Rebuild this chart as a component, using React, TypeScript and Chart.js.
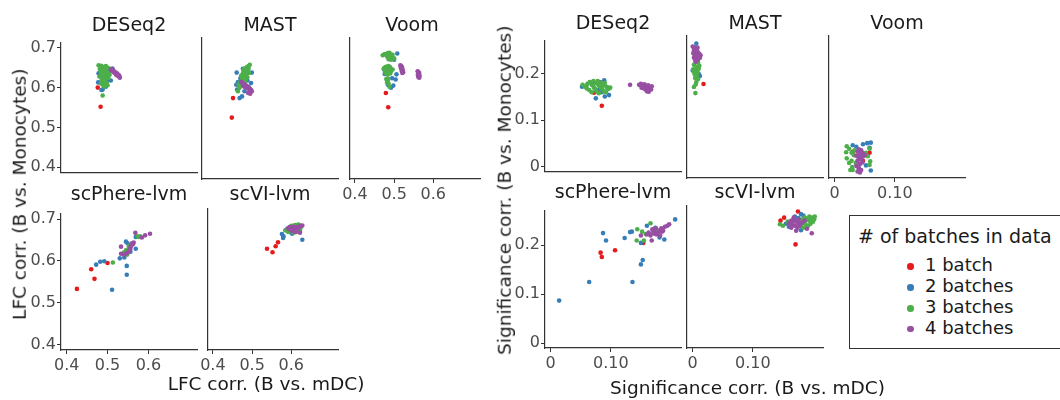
import React, { useEffect, useRef } from "react";
import { Chart, registerables } from "chart.js";

Chart.register(...registerables);

type Pt = [number, number];

// ---------- categories / labels ----------
const BATCH_LABELS = ["1 batch", "2 batches", "3 batches", "4 batches"];
const BATCH_COLORS = ["#E41A1C", "#377EB8", "#4DAF4A", "#984EA3"];
const METHODS_TOP = ["DESeq2", "MAST", "Voom"];
const METHODS_BOTTOM = ["scPhere-lvm", "scVI-lvm"];
const LEGEND_TITLE = "# of batches in data";

// ---------- tick values ----------
const LFC_Y_TICKS = [0.4, 0.5, 0.6, 0.7];
const LFC_X_TICKS = [0.4, 0.5, 0.6];
const SIG_Y_TICKS = [0, 0.1, 0.2];
const SIG_X_TICKS = [0, 0.1];

// ---------- LFC corr. data: [B vs. mDC, B vs. Monocytes] ----------
const lfcDESeq2_b1: Pt[] = [[0.476, 0.600], [0.483, 0.552]];
const lfcDESeq2_b2: Pt[] = [[0.477, 0.613], [0.478, 0.636], [0.485, 0.594], [0.488, 0.595], [0.496, 0.602], [0.500, 0.618], [0.508, 0.618], [0.512, 0.648], [0.490, 0.625], [0.482, 0.628], [0.503, 0.640], [0.493, 0.610]];
const lfcDESeq2_b3: Pt[] = [[0.478, 0.656], [0.484, 0.655], [0.490, 0.652], [0.496, 0.654], [0.500, 0.650], [0.504, 0.648], [0.481, 0.647], [0.487, 0.645], [0.493, 0.646], [0.498, 0.643], [0.483, 0.640], [0.490, 0.638], [0.496, 0.637], [0.502, 0.640], [0.486, 0.633], [0.492, 0.631], [0.499, 0.630], [0.480, 0.628], [0.488, 0.625], [0.495, 0.622], [0.502, 0.624], [0.485, 0.617], [0.492, 0.615], [0.498, 0.612], [0.489, 0.608], [0.495, 0.605], [0.484, 0.610], [0.491, 0.603], [0.488, 0.580], [0.505, 0.632], [0.500, 0.606]];
const lfcDESeq2_b4: Pt[] = [[0.508, 0.645], [0.511, 0.643], [0.513, 0.641], [0.515, 0.639], [0.517, 0.637], [0.519, 0.636], [0.521, 0.634], [0.523, 0.633], [0.525, 0.631], [0.527, 0.629], [0.529, 0.627], [0.530, 0.625], [0.516, 0.641], [0.520, 0.638], [0.524, 0.635], [0.528, 0.631], [0.512, 0.646], [0.522, 0.631]];

const lfcMAST_b1: Pt[] = [[0.462, 0.574], [0.459, 0.529]];
const lfcMAST_b2: Pt[] = [[0.470, 0.605], [0.471, 0.633], [0.472, 0.594], [0.478, 0.574], [0.484, 0.578], [0.508, 0.633], [0.506, 0.609], [0.474, 0.611], [0.480, 0.620], [0.490, 0.590], [0.497, 0.615], [0.486, 0.642], [0.500, 0.600]];
const lfcMAST_b3: Pt[] = [[0.476, 0.605], [0.480, 0.612], [0.484, 0.618], [0.488, 0.622], [0.482, 0.626], [0.486, 0.630], [0.490, 0.634], [0.494, 0.638], [0.488, 0.640], [0.492, 0.643], [0.496, 0.646], [0.500, 0.648], [0.503, 0.651], [0.498, 0.640], [0.494, 0.628], [0.490, 0.620], [0.486, 0.611], [0.492, 0.614], [0.497, 0.622], [0.501, 0.632], [0.478, 0.598], [0.484, 0.603], [0.474, 0.590], [0.488, 0.636], [0.495, 0.632], [0.500, 0.642]];
const lfcMAST_b4: Pt[] = [[0.482, 0.612], [0.485, 0.609], [0.488, 0.607], [0.491, 0.605], [0.494, 0.603], [0.497, 0.600], [0.500, 0.598], [0.503, 0.596], [0.506, 0.593], [0.508, 0.590], [0.502, 0.590], [0.499, 0.586], [0.504, 0.584], [0.490, 0.600], [0.495, 0.597], [0.487, 0.603]];

const lfcVoom_b1: Pt[] = [[0.479, 0.586], [0.485, 0.553]];
const lfcVoom_b2: Pt[] = [[0.508, 0.677], [0.500, 0.663], [0.506, 0.629], [0.504, 0.617], [0.498, 0.603], [0.492, 0.598], [0.484, 0.605], [0.474, 0.641], [0.476, 0.630], [0.490, 0.643], [0.482, 0.636], [0.495, 0.620]];
const lfcVoom_b3: Pt[] = [[0.471, 0.673], [0.476, 0.676], [0.480, 0.674], [0.484, 0.678], [0.488, 0.679], [0.492, 0.675], [0.496, 0.674], [0.482, 0.670], [0.488, 0.668], [0.494, 0.669], [0.500, 0.666], [0.486, 0.664], [0.492, 0.663], [0.474, 0.643], [0.478, 0.646], [0.482, 0.647], [0.486, 0.648], [0.490, 0.645], [0.476, 0.638], [0.480, 0.636], [0.484, 0.640], [0.488, 0.638], [0.492, 0.636], [0.496, 0.640], [0.478, 0.632], [0.484, 0.630], [0.490, 0.631], [0.480, 0.618], [0.484, 0.615], [0.482, 0.610], [0.486, 0.607], [0.488, 0.600], [0.484, 0.620]];
const lfcVoom_b4: Pt[] = [[0.516, 0.650], [0.518, 0.648], [0.520, 0.646], [0.517, 0.644], [0.521, 0.642], [0.519, 0.640], [0.522, 0.638], [0.520, 0.636], [0.523, 0.634], [0.521, 0.632], [0.560, 0.636], [0.562, 0.634], [0.564, 0.632], [0.561, 0.629], [0.563, 0.627], [0.565, 0.625], [0.562, 0.623], [0.564, 0.621], [0.561, 0.626]];

const lfcScPhere_b1: Pt[] = [[0.425, 0.533], [0.460, 0.580], [0.468, 0.557], [0.500, 0.595]];
const lfcScPhere_b2: Pt[] = [[0.472, 0.591], [0.482, 0.598], [0.492, 0.599], [0.511, 0.531], [0.530, 0.606], [0.541, 0.608], [0.547, 0.588], [0.547, 0.567], [0.545, 0.646], [0.549, 0.642], [0.569, 0.629], [0.569, 0.657], [0.552, 0.628], [0.556, 0.622]];
const lfcScPhere_b3: Pt[] = [[0.513, 0.596], [0.540, 0.620], [0.545, 0.625], [0.552, 0.634], [0.574, 0.659], [0.580, 0.659], [0.548, 0.615], [0.556, 0.638], [0.577, 0.657], [0.543, 0.618]];
const lfcScPhere_b4: Pt[] = [[0.533, 0.634], [0.533, 0.617], [0.546, 0.618], [0.552, 0.622], [0.556, 0.632], [0.560, 0.642], [0.564, 0.644], [0.568, 0.667], [0.584, 0.656], [0.592, 0.661], [0.604, 0.665], [0.555, 0.628], [0.540, 0.615], [0.549, 0.620], [0.562, 0.640], [0.558, 0.637]];

const lfcScVI_b1: Pt[] = [[0.538, 0.621], [0.552, 0.613], [0.560, 0.627], [0.566, 0.636]];
const lfcScVI_b2: Pt[] = [[0.576, 0.655], [0.580, 0.650], [0.579, 0.646], [0.585, 0.664], [0.628, 0.642], [0.602, 0.656], [0.596, 0.660], [0.622, 0.662], [0.590, 0.668], [0.610, 0.672]];
const lfcScVI_b3: Pt[] = [[0.586, 0.664], [0.590, 0.666], [0.594, 0.670], [0.598, 0.668], [0.602, 0.672], [0.606, 0.674], [0.610, 0.676], [0.614, 0.675], [0.618, 0.677], [0.622, 0.674], [0.596, 0.662], [0.600, 0.664], [0.604, 0.660], [0.608, 0.663], [0.612, 0.666], [0.616, 0.668], [0.620, 0.664], [0.624, 0.670], [0.600, 0.674], [0.592, 0.660], [0.606, 0.658], [0.614, 0.660]];
const lfcScVI_b4: Pt[] = [[0.592, 0.668], [0.596, 0.671], [0.600, 0.669], [0.604, 0.667], [0.606, 0.672], [0.608, 0.669], [0.610, 0.665], [0.612, 0.670], [0.614, 0.667], [0.616, 0.672], [0.620, 0.671], [0.624, 0.674], [0.628, 0.675], [0.622, 0.658], [0.602, 0.662], [0.598, 0.665], [0.610, 0.660]];

// ---------- Significance corr. data: [B vs. mDC, B vs. Monocytes] ----------
const sigDESeq2_b1: Pt[] = [[0.085, 0.131], [0.072, 0.159], [0.082, 0.182]];
const sigDESeq2_b2: Pt[] = [[0.075, 0.147], [0.052, 0.172], [0.097, 0.154], [0.090, 0.151], [0.059, 0.172], [0.089, 0.186], [0.066, 0.181], [0.080, 0.165], [0.094, 0.170], [0.070, 0.176], [0.085, 0.160]];
const sigDESeq2_b3: Pt[] = [[0.053, 0.176], [0.057, 0.172], [0.061, 0.178], [0.065, 0.182], [0.069, 0.175], [0.072, 0.170], [0.075, 0.180], [0.078, 0.184], [0.081, 0.173], [0.084, 0.168], [0.087, 0.176], [0.090, 0.180], [0.093, 0.172], [0.096, 0.167], [0.099, 0.170], [0.064, 0.165], [0.068, 0.160], [0.076, 0.162], [0.080, 0.158], [0.088, 0.163], [0.071, 0.184], [0.083, 0.181], [0.092, 0.160], [0.074, 0.167], [0.086, 0.172], [0.060, 0.168], [0.079, 0.176]];
const sigDESeq2_b4: Pt[] = [[0.132, 0.176], [0.147, 0.176], [0.150, 0.178], [0.153, 0.174], [0.156, 0.177], [0.159, 0.172], [0.162, 0.175], [0.165, 0.170], [0.168, 0.173], [0.151, 0.170], [0.155, 0.168], [0.158, 0.166], [0.161, 0.168], [0.164, 0.165], [0.167, 0.166], [0.160, 0.162], [0.163, 0.161], [0.152, 0.173], [0.166, 0.169]];

const sigMAST_b1: Pt[] = [[0.018, 0.176]];
const sigMAST_b2: Pt[] = [[0.006, 0.256], [0.012, 0.192], [0.000, 0.203], [0.004, 0.248], [0.010, 0.196]];
const sigMAST_b3: Pt[] = [[0.003, 0.232], [0.007, 0.228], [0.004, 0.222], [0.009, 0.218], [0.002, 0.214], [0.006, 0.210], [0.010, 0.206], [0.001, 0.205], [0.005, 0.202], [0.008, 0.199], [0.003, 0.196], [0.007, 0.192], [0.011, 0.212], [0.004, 0.188], [0.006, 0.180], [0.002, 0.170], [0.005, 0.175], [0.0045, 0.158], [0.009, 0.186], [0.002, 0.200]];
const sigMAST_b4: Pt[] = [[0.000, 0.250], [0.003, 0.247], [0.006, 0.244], [0.002, 0.242], [0.005, 0.239], [0.008, 0.240], [0.011, 0.236], [0.004, 0.234], [0.007, 0.232], [0.010, 0.230], [0.013, 0.233], [0.002, 0.228], [0.006, 0.226], [0.009, 0.224], [0.012, 0.228], [0.005, 0.220], [0.001, 0.237], [0.008, 0.248]];

const sigVoom_b1: Pt[] = [[0.030, 0.042], [0.047, 0.024], [0.058, 0.040]];
const sigVoom_b2: Pt[] = [[0.060, 0.060], [0.054, 0.059], [0.047, 0.057], [0.058, 0.050], [0.060, 0.005], [0.052, 0.015], [0.041, 0.045], [0.036, 0.052], [0.030, 0.055], [0.044, 0.030]];
const sigVoom_b3: Pt[] = [[0.020, 0.053], [0.019, 0.041], [0.020, 0.029], [0.026, 0.006], [0.030, 0.006], [0.059, 0.023], [0.058, 0.016], [0.028, 0.040], [0.032, 0.035], [0.024, 0.048], [0.028, 0.024], [0.035, 0.020], [0.055, 0.033], [0.058, 0.048], [0.029, 0.012], [0.024, 0.020], [0.040, 0.010], [0.052, 0.040], [0.033, 0.045]];
const sigVoom_b4: Pt[] = [[0.040, 0.047], [0.044, 0.045], [0.038, 0.042], [0.046, 0.040], [0.042, 0.037], [0.036, 0.034], [0.048, 0.033], [0.040, 0.030], [0.044, 0.027], [0.038, 0.024], [0.046, 0.021], [0.042, 0.018], [0.036, 0.014], [0.040, 0.010], [0.044, 0.006], [0.038, 0.003], [0.042, 0.001], [0.050, 0.036]];

const sigScPhere_b1: Pt[] = [[0.083, 0.185], [0.085, 0.176], [0.107, 0.190], [0.154, 0.205]];
const sigScPhere_b2: Pt[] = [[0.014, 0.087], [0.064, 0.125], [0.087, 0.225], [0.092, 0.210], [0.123, 0.215], [0.132, 0.227], [0.135, 0.228], [0.136, 0.125], [0.150, 0.161], [0.153, 0.170], [0.150, 0.205], [0.160, 0.240], [0.189, 0.212], [0.181, 0.216], [0.207, 0.253], [0.165, 0.223], [0.174, 0.236]];
const sigScPhere_b3: Pt[] = [[0.143, 0.210], [0.144, 0.233], [0.152, 0.228], [0.166, 0.245], [0.170, 0.226], [0.155, 0.210], [0.162, 0.224], [0.176, 0.232], [0.158, 0.223]];
const sigScPhere_b4: Pt[] = [[0.150, 0.220], [0.160, 0.222], [0.163, 0.226], [0.166, 0.220], [0.169, 0.233], [0.172, 0.230], [0.175, 0.235], [0.178, 0.225], [0.181, 0.230], [0.184, 0.235], [0.187, 0.230], [0.190, 0.238], [0.194, 0.240], [0.197, 0.243], [0.168, 0.210], [0.176, 0.222], [0.182, 0.220], [0.185, 0.228], [0.172, 0.224]];

const sigScVI_b1: Pt[] = [[0.175, 0.260], [0.171, 0.195], [0.146, 0.242], [0.152, 0.248]];
const sigScVI_b2: Pt[] = [[0.180, 0.255], [0.155, 0.236], [0.180, 0.223], [0.184, 0.252], [0.160, 0.230], [0.170, 0.250], [0.192, 0.244], [0.165, 0.238], [0.176, 0.247]];
const sigScVI_b3: Pt[] = [[0.178, 0.240], [0.182, 0.244], [0.186, 0.238], [0.190, 0.246], [0.194, 0.242], [0.198, 0.248], [0.202, 0.245], [0.200, 0.240], [0.196, 0.236], [0.192, 0.232], [0.188, 0.234], [0.184, 0.228], [0.180, 0.232], [0.203, 0.250], [0.145, 0.235], [0.150, 0.232], [0.186, 0.248], [0.194, 0.250], [0.158, 0.240]];
const sigScVI_b4: Pt[] = [[0.160, 0.238], [0.164, 0.242], [0.168, 0.244], [0.172, 0.240], [0.176, 0.236], [0.170, 0.232], [0.166, 0.234], [0.162, 0.233], [0.174, 0.228], [0.178, 0.232], [0.182, 0.238], [0.186, 0.242], [0.190, 0.226], [0.198, 0.217], [0.168, 0.248], [0.176, 0.244], [0.164, 0.228], [0.172, 0.222]];

// ---------- layout ----------
const FONT = "DejaVu Sans";
const TEXT_COLOR = "#1a1a1a";
const TICK_COLOR = "#4d4d4d";
const AXIS_COLOR = "#333333";
const PANEL_W = 136;

const LEFT_X = [61, 202, 344];
const LEFT_Y = [38, 209];
const LEFT_H = 141;
const RIGHT_X = [545, 687, 829];
const RIGHT_Y = [36, 206];
const RIGHT_H = 142;

const LFC_X_RANGE = [0.386, 0.719];
const LFC_Y_RANGE = [0.387, 0.713];
const SIG_X_RANGE = [-0.0095, 0.2167];
const SIG_Y_RANGE = [-0.0099, 0.271];

type PanelProps = {
  series: Pt[][];
  left: number;
  top: number;
  h: number;
  xRange: number[];
  yRange: number[];
  xTicks: number[];
  yTicks: number[];
  showX: boolean;
  showY: boolean;
  fmtX: (v: number) => string;
  fmtY: (v: number) => string;
};

function Panel(p: PanelProps) {
  const ref = useRef<HTMLCanvasElement>(null);
  const padL = p.showY ? 52 : 4;
  const padB = p.showX ? 30 : 4;
  const padT = 6;
  const padR = 6;
  const cw = PANEL_W + padL + padR;
  const ch = p.h + padT + padB;

  useEffect(() => {
    const order = [3, 2, 1, 0];
    const chart = new Chart(ref.current as HTMLCanvasElement, {
      type: "scatter",
      data: {
        datasets: p.series.map((pts, i) => ({
          label: BATCH_LABELS[i],
          data: pts.map(([x, y]) => ({ x, y })),
          backgroundColor: BATCH_COLORS[i],
          borderColor: BATCH_COLORS[i],
          borderWidth: 0,
          pointRadius: 2.3,
          pointHoverRadius: 2.3,
          clip: false as any,
          order: order[i],
        })),
      },
      options: {
        animation: false,
        responsive: false,
        maintainAspectRatio: false,
        events: [],
        layout: { padding: { top: padT, right: padR, left: 0, bottom: 0 } },
        plugins: { legend: { display: false }, tooltip: { enabled: false }, title: { display: false } },
        scales: {
          x: {
            type: "linear",
            min: p.xRange[0],
            max: p.xRange[1],
            afterBuildTicks: (s: any) => {
              s.ticks = p.xTicks.map((v) => ({ value: v }));
            },
            afterFit: (s: any) => {
              s.height = padB;
            },
            ticks: {
              display: p.showX,
              autoSkip: false,
              maxRotation: 0,
              padding: 2,
              color: TICK_COLOR,
              font: { family: FONT, size: 16 },
              callback: (v: any) => p.fmtX(Number(v)),
            },
            grid: {
              display: p.showX,
              drawOnChartArea: false,
              drawTicks: true,
              tickLength: 4,
              color: AXIS_COLOR,
              lineWidth: 1,
            },
            border: { display: true, color: AXIS_COLOR, width: 1.2 },
          },
          y: {
            type: "linear",
            min: p.yRange[0],
            max: p.yRange[1],
            afterBuildTicks: (s: any) => {
              s.ticks = p.yTicks.map((v) => ({ value: v }));
            },
            afterFit: (s: any) => {
              s.width = padL;
            },
            ticks: {
              display: p.showY,
              autoSkip: false,
              padding: 1,
              color: TICK_COLOR,
              font: { family: FONT, size: 16 },
              callback: (v: any) => p.fmtY(Number(v)),
            },
            grid: {
              display: p.showY,
              drawOnChartArea: false,
              drawTicks: true,
              tickLength: 4,
              color: AXIS_COLOR,
              lineWidth: 1,
            },
            border: { display: true, color: AXIS_COLOR, width: 1.2 },
          },
        },
      } as any,
    });
    return () => chart.destroy();
  }, []);

  return (
    <canvas
      ref={ref}
      width={cw}
      height={ch}
      style={{ position: "absolute", left: p.left - padL, top: p.top - padT, width: cw, height: ch }}
    />
  );
}

// text helpers (DejaVu Sans: baseline sits 0.846em below the top of a line-height:1 box)
function Label({ text, cx, baseline, size, color = TEXT_COLOR }: { text: string; cx: number; baseline: number; size: number; color?: string }) {
  return (
    <div
      style={{
        position: "absolute",
        left: cx - 300,
        width: 600,
        top: baseline - 0.846 * size,
        fontSize: size,
        lineHeight: `${size}px`,
        textAlign: "center",
        whiteSpace: "nowrap",
        color,
      }}
    >
      {text}
    </div>
  );
}

function LeftLabel({ text, x, baseline, size }: { text: string; x: number; baseline: number; size: number }) {
  return (
    <div
      style={{
        position: "absolute",
        left: x,
        top: baseline - 0.846 * size,
        fontSize: size,
        lineHeight: `${size}px`,
        whiteSpace: "nowrap",
        color: TEXT_COLOR,
      }}
    >
      {text}
    </div>
  );
}

function VLabel({ text, baselineX, cy, size }: { text: string; baselineX: number; cy: number; size: number }) {
  const cx = baselineX - 0.346 * size;
  return (
    <div
      style={{
        position: "absolute",
        left: cx - 300,
        width: 600,
        top: cy - size / 2,
        height: size,
        fontSize: size,
        lineHeight: `${size}px`,
        textAlign: "center",
        whiteSpace: "nowrap",
        color: TEXT_COLOR,
        transform: "rotate(-90deg)",
        transformOrigin: "50% 50%",
      }}
    >
      {text}
    </div>
  );
}

const fmt1 = (v: number) => (v === 0 ? "0" : v.toFixed(1));
const fmt2 = (v: number) => (v === 0 ? "0" : v.toFixed(2));

export default function App() {
  const lfcTop = [
    [lfcDESeq2_b1, lfcDESeq2_b2, lfcDESeq2_b3, lfcDESeq2_b4],
    [lfcMAST_b1, lfcMAST_b2, lfcMAST_b3, lfcMAST_b4],
    [lfcVoom_b1, lfcVoom_b2, lfcVoom_b3, lfcVoom_b4],
  ];
  const lfcBottom = [
    [lfcScPhere_b1, lfcScPhere_b2, lfcScPhere_b3, lfcScPhere_b4],
    [lfcScVI_b1, lfcScVI_b2, lfcScVI_b3, lfcScVI_b4],
  ];
  const sigTop = [
    [sigDESeq2_b1, sigDESeq2_b2, sigDESeq2_b3, sigDESeq2_b4],
    [sigMAST_b1, sigMAST_b2, sigMAST_b3, sigMAST_b4],
    [sigVoom_b1, sigVoom_b2, sigVoom_b3, sigVoom_b4],
  ];
  const sigBottom = [
    [sigScPhere_b1, sigScPhere_b2, sigScPhere_b3, sigScPhere_b4],
    [sigScVI_b1, sigScVI_b2, sigScVI_b3, sigScVI_b4],
  ];

  const legendRowsY = [266.7, 287.5, 308.3, 329];

  return (
    <div
      style={{
        position: "absolute",
        left: 0,
        top: 0,
        width: 1060,
        height: 400,
        overflow: "hidden",
        background: "#ffffff",
        fontFamily: `"${FONT}", sans-serif`,
      }}
    >
      {/* LFC group */}
      {lfcTop.map((s, i) => (
        <Panel
          key={"lt" + i}
          series={s}
          left={LEFT_X[i]}
          top={LEFT_Y[0]}
          h={LEFT_H}
          xRange={LFC_X_RANGE}
          yRange={LFC_Y_RANGE}
          xTicks={LFC_X_TICKS}
          yTicks={LFC_Y_TICKS}
          showX={i === 2}
          showY={i === 0}
          fmtX={fmt1}
          fmtY={fmt1}
        />
      ))}
      {lfcBottom.map((s, i) => (
        <Panel
          key={"lb" + i}
          series={s}
          left={LEFT_X[i]}
          top={LEFT_Y[1]}
          h={LEFT_H}
          xRange={LFC_X_RANGE}
          yRange={LFC_Y_RANGE}
          xTicks={LFC_X_TICKS}
          yTicks={LFC_Y_TICKS}
          showX={true}
          showY={i === 0}
          fmtX={fmt1}
          fmtY={fmt1}
        />
      ))}
      {/* Significance group */}
      {sigTop.map((s, i) => (
        <Panel
          key={"st" + i}
          series={s}
          left={RIGHT_X[i]}
          top={RIGHT_Y[0]}
          h={RIGHT_H}
          xRange={SIG_X_RANGE}
          yRange={SIG_Y_RANGE}
          xTicks={SIG_X_TICKS}
          yTicks={SIG_Y_TICKS}
          showX={i === 2}
          showY={i === 0}
          fmtX={fmt2}
          fmtY={fmt1}
        />
      ))}
      {sigBottom.map((s, i) => (
        <Panel
          key={"sb" + i}
          series={s}
          left={RIGHT_X[i]}
          top={RIGHT_Y[1]}
          h={RIGHT_H}
          xRange={SIG_X_RANGE}
          yRange={SIG_Y_RANGE}
          xTicks={SIG_X_TICKS}
          yTicks={SIG_Y_TICKS}
          showX={true}
          showY={i === 0}
          fmtX={fmt2}
          fmtY={fmt1}
        />
      ))}

      {/* facet strip titles */}
      {METHODS_TOP.map((m, i) => (
        <Label key={"tl" + i} text={m} cx={LEFT_X[i] + PANEL_W / 2} baseline={LEFT_Y[0] - 6.5} size={19} />
      ))}
      {METHODS_BOTTOM.map((m, i) => (
        <Label key={"bl" + i} text={m} cx={LEFT_X[i] + PANEL_W / 2} baseline={LEFT_Y[1] - 9} size={19} />
      ))}
      {METHODS_TOP.map((m, i) => (
        <Label key={"tr" + i} text={m} cx={RIGHT_X[i] + PANEL_W / 2} baseline={RIGHT_Y[0] - 6.5} size={19} />
      ))}
      {METHODS_BOTTOM.map((m, i) => (
        <Label key={"br" + i} text={m} cx={RIGHT_X[i] + PANEL_W / 2} baseline={RIGHT_Y[1] - 8} size={19} />
      ))}

      {/* axis titles */}
      <Label text="LFC corr. (B vs. mDC)" cx={266} baseline={390.5} size={18.5} />
      <Label text="Significance corr. (B vs. mDC)" cx={747.5} baseline={394.5} size={18.5} />
      <VLabel text="LFC corr. (B vs. Monocytes)" baselineX={26} cy={194} size={18.5} />
      <VLabel text="Significance corr. (B vs. Monocytes)" baselineX={511.5} cy={190} size={18.5} />

      {/* legend */}
      <div
        style={{
          position: "absolute",
          left: 849,
          top: 215,
          width: 240,
          height: 134,
          border: "1px solid #333",
          boxSizing: "border-box",
        }}
      />
      <LeftLabel text={LEGEND_TITLE} x={858} baseline={243.3} size={19} />
      {BATCH_LABELS.map((b, i) => (
        <React.Fragment key={"lg" + i}>
          <div
            style={{
              position: "absolute",
              left: 910.7 - 3.3,
              top: legendRowsY[i] - 3.3,
              width: 6.6,
              height: 6.6,
              borderRadius: "50%",
              background: BATCH_COLORS[i],
            }}
          />
          <LeftLabel text={b} x={925} baseline={legendRowsY[i] + 5} size={18} />
        </React.Fragment>
      ))}
    </div>
  );
}
